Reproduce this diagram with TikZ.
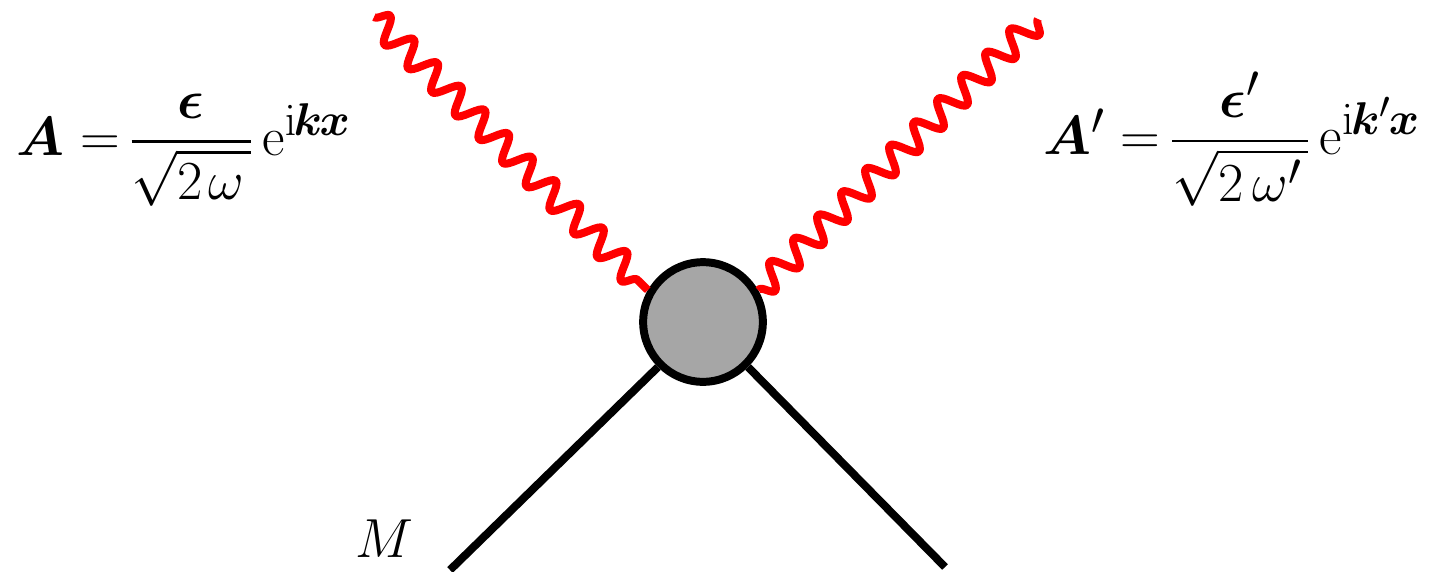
\documentclass[tikz,border=0pt]{standalone}
\usepackage{amsmath,bm}
\usepackage{tikz}
\usetikzlibrary{decorations.pathmorphing}
\tikzset{
photon/.style={red,line width=3.6pt,line join=round,decorate,decoration={snake,amplitude=5.6pt,segment length=15.1pt}},
fermion/.style={black,line width=3.6pt},
blob/.style={circle,draw=black,fill=black!35,line width=3.6pt,inner sep=0pt,minimum size=1.9cm},
label/.style={font=\Huge,inner sep=0pt},
}
\begin{document}
\begin{tikzpicture}[x=.0635cm,y=-.0635cm]
\useasboundingbox (0,0) rectangle (1429/4,571/4);
\node[blob] (vertex) at (703/4,322/4) {};
\coordinate (photonin) at (374/4,17/4);
\coordinate (photonout) at (1038/4,19/4);
\coordinate (legin) at (450/4,570/4);
\coordinate (legout) at (945/4,567/4);
\draw[photon] (photonin) -- (vertex.150);
\draw[photon] (photonout) -- (vertex.30);
\draw[fermion] (legin) -- (vertex.225);
\draw[fermion] (legout) -- (vertex.315);
\node[label] (fieldin) at (184/4,150/4) {$\bm{A}=\mkern-2mu\dfrac{\bm{\epsilon}}{\sqrt{2\mkern2mu\omega\mkern2mu}}\,\mathrm{e}^{\mathrm{i}\mkern-1mu\bm{k}\mkern-1mu\bm{x}}$};
\node[label] (fieldout) at (1232/4,139/4) {$\bm{A}'=\mkern-2mu\dfrac{\bm{\epsilon}'}{\sqrt{2\mkern3mu\omega'\mkern2mu}}\,\mathrm{e}^{\mathrm{i}\mkern-1mu\bm{k}'\mkern-1mu\bm{x}}$};
\node[label] (mass) at (384/4,539/4) {$M$};
\end{tikzpicture}
\end{document}
